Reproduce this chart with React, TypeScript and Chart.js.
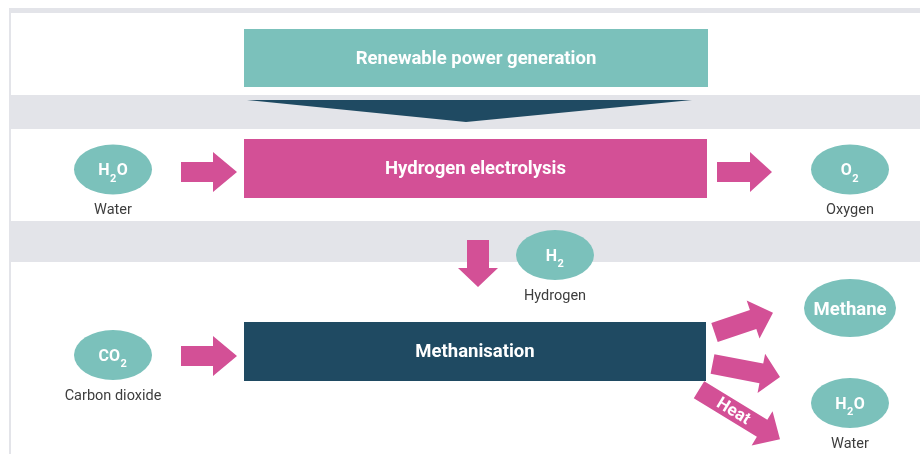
import React, { useEffect, useRef } from "react";
import { Chart, registerables } from "chart.js";

Chart.register(...registerables);

const FONT = "Roboto, 'Noto Sans', sans-serif";

// Frame of the figure (grey background and white rows)
const frameLeft = 9;
const frameTop = 8;
const rowLeft = 11;
const rowTops = [13, 129, 262];
const rowBottoms = [95, 221, 454];

// Process boxes
const processLabels = ["Renewable power generation", "Hydrogen electrolysis", "Methanisation"];
const processLeft = [244, 244, 244];
const processRight = [708, 707, 706];
const processTop = [29, 139, 322];
const processBottom = [87, 198, 381];
const processColors = ["#7bc1bb", "#d35096", "#1f4a62"];

// Funnel (power flowing into electrolysis)
const funnelX = [247, 692, 466];
const funnelY = [100, 100, 122];

// Molecules (ellipses)
const moleculeFormulas = ["H2O", "O2", "H2", "CO2", "Methane", "H2O"];
const moleculeNames = ["Water", "Oxygen", "Hydrogen", "Carbon dioxide", "", "Water"];
const moleculeX = [113, 850, 555, 113, 850, 850];
const moleculeY = [169.5, 169.5, 255, 355, 308, 403];
const moleculeRx = [39, 39, 39, 39, 46, 39];
const moleculeRy = [25, 25, 25, 25, 29, 25];

// Arrows (tail centre -> tip)
const arrowTailX = [181, 717, 478, 181, 714.5, 712.5, 699];
const arrowTailY = [172, 172, 240, 356, 332.5, 364, 389.7];
const arrowTipX = [237, 772, 478, 237, 773, 780, 780];
const arrowTipY = [172, 172, 287, 356, 312.7, 377, 439.3];
const arrowHeadLength = [24, 22, 19, 24, 21, 19, 21];
const arrowShaftWidth = [20, 20, 22, 20, 20, 20, 20];
const arrowHeadWidth = [40, 40, 40, 40, 40, 40, 40];
const arrowLabels = ["", "", "", "", "", "", "Heat"];

const TEAL = "#7bc1bb";
const PINK = "#d35096";
const GREY = "#e3e4e9";
const LABEL = "#3d3d3d";

function drawFormula(ctx: CanvasRenderingContext2D, text: string, cx: number, cy: number, size: number) {
  const parts = [...text].map((ch) => ({ ch, sub: /\d/.test(ch) }));
  const mainFont = `bold ${size}px ${FONT}`;
  const subFont = `bold ${Math.round(size * 0.68)}px ${FONT}`;
  let w = 0;
  for (const p of parts) {
    ctx.font = p.sub ? subFont : mainFont;
    w += ctx.measureText(p.ch).width + (p.sub ? 1 : 0);
  }
  let x = cx - w / 2;
  const base = cy + size * 0.355;
  ctx.textAlign = "left";
  ctx.textBaseline = "alphabetic";
  for (const p of parts) {
    ctx.font = p.sub ? subFont : mainFont;
    if (p.sub) x += 0.5;
    ctx.fillText(p.ch, x, base + (p.sub ? size * 0.4 : 0));
    x += ctx.measureText(p.ch).width + (p.sub ? 0.5 : 0);
  }
}

const diagramPlugin = {
  id: "diagram",
  beforeDatasetsDraw(chart: any) {
    const { ctx } = chart;
    const xs = chart.scales.x;
    const ys = chart.scales.y;
    const px = (v: number) => xs.getPixelForValue(v);
    const py = (v: number) => ys.getPixelForValue(v);
    ctx.save();

    // grey frame
    ctx.fillStyle = GREY;
    ctx.fillRect(px(frameLeft), py(frameTop), px(xs.max) - px(frameLeft), py(ys.max) - py(frameTop));
    // white rows
    ctx.fillStyle = "#ffffff";
    rowTops.forEach((t, i) => {
      ctx.fillRect(px(rowLeft), py(t), px(xs.max) - px(rowLeft), py(rowBottoms[i]) - py(t));
    });

    // funnel
    ctx.fillStyle = "#1f4a62";
    ctx.beginPath();
    funnelX.forEach((x, i) => {
      if (i === 0) ctx.moveTo(px(x), py(funnelY[i]));
      else ctx.lineTo(px(x), py(funnelY[i]));
    });
    ctx.closePath();
    ctx.fill();

    // process boxes
    processLabels.forEach((label, i) => {
      const x0 = px(processLeft[i]);
      const x1 = px(processRight[i]);
      const y0 = py(processTop[i]);
      const y1 = py(processBottom[i]);
      ctx.fillStyle = processColors[i];
      ctx.fillRect(x0, y0, x1 - x0, y1 - y0);
      ctx.fillStyle = "#ffffff";
      ctx.font = `bold 18.5px ${FONT}`;
      ctx.textAlign = "center";
      ctx.textBaseline = "middle";
      ctx.fillText(label, (x0 + x1) / 2, (y0 + y1) / 2 + 1);
    });

    // arrows
    arrowTailX.forEach((tx, i) => {
      const x0 = px(tx);
      const y0 = py(arrowTailY[i]);
      const x1 = px(arrowTipX[i]);
      const y1 = py(arrowTipY[i]);
      const ang = Math.atan2(y1 - y0, x1 - x0);
      const len = Math.hypot(x1 - x0, y1 - y0);
      const hl = arrowHeadLength[i];
      const sw = arrowShaftWidth[i] / 2;
      const hw = arrowHeadWidth[i] / 2;
      ctx.save();
      ctx.translate(x0, y0);
      ctx.rotate(ang);
      ctx.fillStyle = PINK;
      ctx.beginPath();
      ctx.moveTo(0, -sw);
      ctx.lineTo(len - hl, -sw);
      ctx.lineTo(len - hl, -hw);
      ctx.lineTo(len, 0);
      ctx.lineTo(len - hl, hw);
      ctx.lineTo(len - hl, sw);
      ctx.lineTo(0, sw);
      ctx.closePath();
      ctx.fill();
      if (arrowLabels[i]) {
        ctx.fillStyle = "#ffffff";
        ctx.font = `bold 17px ${FONT}`;
        ctx.textAlign = "center";
        ctx.textBaseline = "middle";
        ctx.fillText(arrowLabels[i], (len - hl) * 0.55, 1);
      }
      ctx.restore();
    });

    // molecules
    moleculeFormulas.forEach((f, i) => {
      const cx = px(moleculeX[i]);
      const cy = py(moleculeY[i]);
      ctx.fillStyle = TEAL;
      ctx.beginPath();
      ctx.ellipse(cx, cy, moleculeRx[i], moleculeRy[i], 0, 0, Math.PI * 2);
      ctx.fill();
      ctx.fillStyle = "#ffffff";
      drawFormula(ctx, f, cx, cy, f.length > 3 ? 18.5 : 16);
      if (moleculeNames[i]) {
        ctx.fillStyle = LABEL;
        ctx.font = `14.5px ${FONT}`;
        ctx.textAlign = "center";
        ctx.textBaseline = "middle";
        ctx.fillText(moleculeNames[i], cx, cy + 41);
      }
    });

    ctx.restore();
  },
};

export default function App() {
  const ref = useRef<HTMLCanvasElement | null>(null);
  useEffect(() => {
    if (!ref.current) return;
    const chart = new Chart(ref.current, {
      type: "scatter",
      data: {
        datasets: [
          {
            label: "Molecules",
            data: moleculeX.map((x, i) => ({ x, y: moleculeY[i] })),
            pointRadius: 0,
            pointHoverRadius: 0,
          },
        ],
      },
      options: {
        animation: false,
        responsive: false,
        devicePixelRatio: 1,
        layout: { padding: 0 },
        events: [],
        plugins: { legend: { display: false }, tooltip: { enabled: false } },
        scales: {
          x: { type: "linear", min: 0, max: 920, display: false },
          y: { type: "linear", min: 0, max: 454, reverse: true, display: false },
        },
      },
      plugins: [diagramPlugin],
    });
    return () => chart.destroy();
  }, []);
  return (
    <div style={{ position: "fixed", left: 0, top: 0, width: 920, height: 454, background: "#fff" }}>
      <canvas ref={ref} width={920} height={454} style={{ display: "block", width: 920, height: 454 }} />
    </div>
  );
}
